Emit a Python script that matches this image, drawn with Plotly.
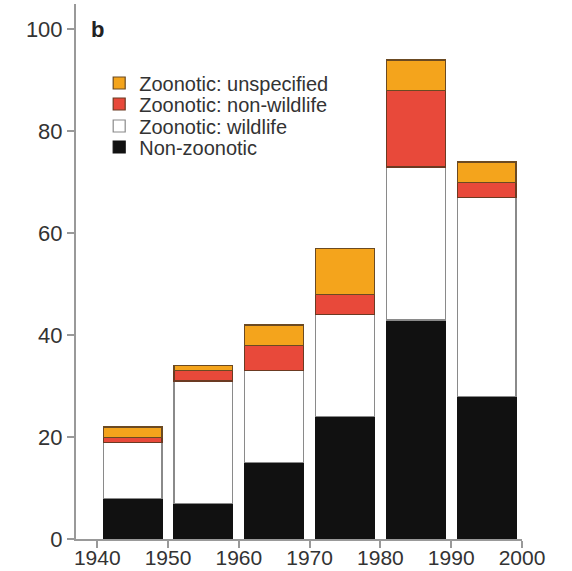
import plotly.graph_objects as go

decades = [1945, 1955, 1965, 1975, 1985, 1995]
tick_vals = [1940, 1950, 1960, 1970, 1980, 1990, 2000]
tick_text = ["1940", "1950", "1960", "1970", "1980", "1990", "2000"]
non_zoonotic = [8, 7, 15, 24, 43, 28]
zoo_wildlife = [11, 24, 18, 20, 30, 39]
zoo_non_wildlife = [1, 2, 5, 4, 15, 3]
zoo_unspecified = [2, 1, 4, 9, 6, 4]

FONT = "Liberation Sans, Arial, Helvetica, sans-serif"
BAR_W = 8.3

fig = go.Figure()
series = [
    ("Non-zoonotic", non_zoonotic, "#111111", "#111111", "legend4"),
    ("Zoonotic: wildlife", zoo_wildlife, "#ffffff", "#8a8a8a", "legend3"),
    ("Zoonotic: non-wildlife", zoo_non_wildlife, "#e8493a", "#6b3a22", "legend2"),
    ("Zoonotic: unspecified", zoo_unspecified, "#f4a41c", "#6b4a22", "legend"),
]
for name, vals, col, lcol, lg in series:
    fig.add_trace(go.Bar(
        x=decades, y=vals, name=name, width=BAR_W, legend=lg,
        marker=dict(color=col, line=dict(color=lcol, width=1.2)),
    ))

# legend rows positioned individually (pixel row centres 83, 104, 126, 147)
PLOT_TOP, PLOT_BOT = 4, 539
def py(p):
    return (PLOT_BOT - p) / (PLOT_BOT - PLOT_TOP)

LEG_X = 0.052
def leg(yp):
    return dict(
        x=LEG_X, y=py(yp), xanchor="left", yanchor="middle",
        font=dict(family=FONT, size=20, color="#333333"),
        bgcolor="rgba(0,0,0,0)", borderwidth=0,
    )

fig.update_layout(
    barmode="stack",
    width=572, height=571,
    margin=dict(l=76, r=50, t=PLOT_TOP, b=571 - PLOT_BOT, autoexpand=False),
    paper_bgcolor="white", plot_bgcolor="white",
    font=dict(family=FONT, color="#333333", size=18),
    showlegend=True,
    legend=leg(83), legend2=leg(104), legend3=leg(126), legend4=leg(147),
    xaxis=dict(
        range=[1937, 2000], tickvals=tick_vals, ticktext=tick_text,
        showgrid=False, zeroline=False, automargin=False,
        showline=True, linecolor="#999999", linewidth=2,
        ticks="outside", ticklen=7, tickwidth=1.5, tickcolor="#999999",
        tickfont=dict(size=21, color="#333333"),
        ticklabelstandoff=-8,
    ),
    yaxis=dict(
        range=[0, 105], tickvals=[0, 20, 40, 60, 80, 100],
        showgrid=False, zeroline=False, automargin=False,
        showline=True, linecolor="#999999", linewidth=2,
        ticks="outside", ticklen=7, tickwidth=1.5, tickcolor="#999999",
        tickfont=dict(size=22, color="#333333"),
    ),
    annotations=[dict(
        text="<b>b</b>", xref="paper", yref="paper",
        x=0.03, y=py(29), xanchor="left", yanchor="middle",
        showarrow=False, font=dict(family=FONT, size=22, color="#222222"),
    )],
)

fig.write_html(
    "out.html",
    config={"displayModeBar": False},
    post_script="document.body.style.margin='0';document.body.style.overflow='hidden';",
)
